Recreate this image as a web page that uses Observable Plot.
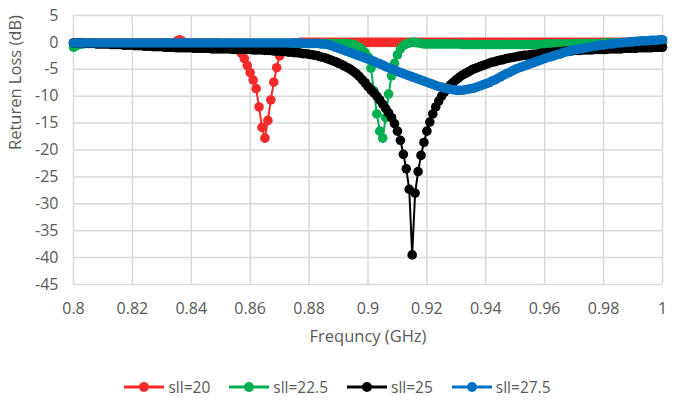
<!DOCTYPE html>
<html>
<head>
<meta charset="utf-8">
<script src="https://cdn.jsdelivr.net/npm/d3@7"></script>
<script src="https://cdn.jsdelivr.net/npm/@observablehq/plot@0.6"></script>
<style>
  body { margin: 0; background: #fff; font-family: "Open Sans", sans-serif; }
  #legend { display: flex; justify-content: center; align-items: center; gap: 19px; margin-top: 27px; height: 20px; color: #595959; font-size: 15.5px; }
  .item { display: flex; align-items: center; }
  .item svg { margin-right: 4px; }
</style>
</head>
<body>
<div id="chart"></div>
<div id="legend"></div>
<script>
const freq = [
0.800,0.801,0.802,0.803,0.804,0.805,0.806,0.807,0.808,0.809,
0.810,0.811,0.812,0.813,0.814,0.815,0.816,0.817,0.818,0.819,
0.820,0.821,0.822,0.823,0.824,0.825,0.826,0.827,0.828,0.829,
0.830,0.831,0.832,0.833,0.834,0.835,0.836,0.837,0.838,0.839,
0.840,0.841,0.842,0.843,0.844,0.845,0.846,0.847,0.848,0.849,
0.850,0.851,0.852,0.853,0.854,0.855,0.856,0.857,0.858,0.859,
0.860,0.861,0.862,0.863,0.864,0.865,0.866,0.867,0.868,0.869,
0.870,0.871,0.872,0.873,0.874,0.875,0.876,0.877,0.878,0.879,
0.880,0.881,0.882,0.883,0.884,0.885,0.886,0.887,0.888,0.889,
0.890,0.891,0.892,0.893,0.894,0.895,0.896,0.897,0.898,0.899,
0.900,0.901,0.902,0.903,0.904,0.905,0.906,0.907,0.908,0.909,
0.910,0.911,0.912,0.913,0.914,0.915,0.916,0.917,0.918,0.919,
0.920,0.921,0.922,0.923,0.924,0.925,0.926,0.927,0.928,0.929,
0.930,0.931,0.932,0.933,0.934,0.935,0.936,0.937,0.938,0.939,
0.940,0.941,0.942,0.943,0.944,0.945,0.946,0.947,0.948,0.949,
0.950,0.951,0.952,0.953,0.954,0.955,0.956,0.957,0.958,0.959,
0.960,0.961,0.962,0.963,0.964,0.965,0.966,0.967,0.968,0.969,
0.970,0.971,0.972,0.973,0.974,0.975,0.976,0.977,0.978,0.979,
0.980,0.981,0.982,0.983,0.984,0.985,0.986,0.987,0.988,0.989,
0.990,0.991,0.992,0.993,0.994,0.995,0.996,0.997,0.998,0.999,
1.000];

const sll20 = [
-0.1,-0.1,-0.1,-0.1,-0.1,-0.1,-0.1,-0.1,-0.1,-0.1,
-0.1,-0.1,-0.1,-0.1,-0.1,-0.1,-0.1,-0.1,-0.1,-0.1,
-0.1,-0.1,-0.1,-0.1,-0.1,-0.1,-0.1,-0.1,-0.1,-0.1,
-0.1,-0.1,-0.1,-0.1,-0.1,0.2,0.5,0.2,-0.1,-0.1,
-0.1,-0.1,-0.1,-0.1,-0.1,-0.1,-0.1,-0.1,-0.1,-0.1,
-0.2,-0.2,-0.3,-0.4,-0.6,-0.9,-1.3,-2.0,-3.0,-4.3,
-5.6,-7.0,-8.6,-12.0,-15.8,-17.8,-14.5,-10.7,-7.4,-4.7,
-2.5,-1.0,-0.5,-0.3,-0.2,-0.1,-0.1,0,0,0,
0,0,0,0,0,0,0,0,0,0,
0,0,0,0,0,0,0,0,0,0,
0,0,0,0,0,0,0,0,0,0,
0,0,0,0,0,0,0,0,0,0,
0,0,0,0,0,0,0,0,0,0,
0,0,0,0,0,0,0,0,0,0,
0,0,0,0,0,0,0,0,0,0,
0,0,0,0,0,0,0,0,0,0,
0,0,0,0,0,0,0,0,0,0,
0,0,0,0,0,0,0,0,0,0,
0,0,0,0,0,0,0,0,0,0,
0,0,0,0,0,0,0,0,0,0,
0];

const sll225 = [
-0.9,-0.6,-0.4,-0.3,-0.2,-0.2,-0.2,-0.2,-0.2,-0.2,
-0.2,-0.2,-0.2,-0.2,-0.2,-0.2,-0.2,-0.2,-0.2,-0.2,
-0.2,-0.2,-0.2,-0.2,-0.2,-0.2,-0.2,-0.2,-0.2,-0.2,
-0.2,-0.2,-0.2,-0.2,-0.2,-0.2,-0.2,-0.2,-0.2,-0.2,
-0.2,-0.2,-0.2,-0.2,-0.2,-0.2,-0.2,-0.2,-0.2,-0.2,
-0.2,-0.2,-0.2,-0.2,-0.2,-0.2,-0.2,-0.2,-0.2,-0.2,
-0.2,-0.2,-0.2,-0.2,-0.2,-0.2,-0.2,-0.2,-0.2,-0.2,
-0.2,-0.2,-0.2,-0.2,-0.2,-0.2,-0.2,-0.2,-0.2,-0.2,
-0.2,-0.2,-0.2,-0.2,-0.2,-0.2,-0.2,-0.2,-0.2,-0.2,
-0.2,-0.2,-0.2,-0.2,-0.3,-0.4,-0.6,-0.9,-1.3,-1.9,
-2.7,-4.8,-9.0,-13.3,-16.5,-17.8,-14.0,-9.6,-6.2,-3.9,
-2.3,-1.2,-0.6,-0.3,-0.1,0,0,-0.1,-0.2,-0.3,
-0.3,-0.3,-0.3,-0.3,-0.3,-0.3,-0.3,-0.3,-0.3,-0.3,
-0.3,-0.3,-0.4,-0.4,-0.4,-0.4,-0.4,-0.4,-0.4,-0.4,
-0.4,-0.4,-0.4,-0.4,-0.4,-0.4,-0.4,-0.4,-0.4,-0.4,
-0.4,-0.4,-0.4,-0.4,-0.4,-0.4,-0.4,-0.4,-0.4,-0.4,
-0.3,-0.3,-0.3,-0.3,-0.3,-0.3,-0.3,-0.3,-0.3,-0.3,
-0.2,-0.2,-0.2,-0.2,-0.2,-0.2,-0.2,-0.2,-0.2,-0.2,
-0.1,-0.1,-0.1,-0.1,-0.1,-0.1,-0.1,-0.1,-0.1,-0.1,
0,0,0,0,0,0,0,0,0,0,
0];

const sll25 = [
-0.1,-0.1,-0.1,-0.1,-0.2,-0.2,-0.2,-0.2,-0.3,-0.3,
-0.3,-0.3,-0.3,-0.4,-0.4,-0.4,-0.4,-0.5,-0.5,-0.5,
-0.5,-0.6,-0.6,-0.6,-0.7,-0.7,-0.7,-0.8,-0.8,-0.8,
-0.8,-0.9,-0.9,-0.9,-0.9,-1.0,-1.0,-1.0,-1.0,-1.0,
-1.0,-1.1,-1.1,-1.1,-1.1,-1.1,-1.1,-1.2,-1.2,-1.2,
-1.2,-1.2,-1.2,-1.2,-1.3,-1.3,-1.3,-1.3,-1.3,-1.3,
-1.3,-1.4,-1.4,-1.4,-1.4,-1.5,-1.5,-1.5,-1.6,-1.6,
-1.6,-1.7,-1.7,-1.8,-1.8,-1.9,-1.9,-2.0,-2.1,-2.1,
-2.2,-2.3,-2.4,-2.5,-2.7,-2.8,-3.0,-3.2,-3.4,-3.6,
-3.9,-4.1,-4.4,-4.7,-5.0,-5.4,-5.8,-6.3,-6.9,-7.5,
-8.2,-8.8,-9.4,-10.0,-10.7,-11.5,-12.3,-13.1,-14.0,-15.1,
-16.5,-18.2,-20.8,-23.5,-27.3,-39.5,-28.0,-24.0,-21.0,-18.6,
-16.5,-14.8,-13.3,-12.0,-10.9,-10.0,-9.2,-8.5,-7.9,-7.4,
-6.9,-6.5,-6.1,-5.8,-5.5,-5.2,-4.9,-4.7,-4.5,-4.3,
-4.1,-3.9,-3.7,-3.6,-3.4,-3.3,-3.2,-3.0,-2.9,-2.8,
-2.7,-2.6,-2.5,-2.4,-2.4,-2.3,-2.2,-2.2,-2.1,-2.0,
-2.0,-1.9,-1.9,-1.8,-1.8,-1.7,-1.7,-1.6,-1.6,-1.6,
-1.5,-1.5,-1.5,-1.4,-1.4,-1.4,-1.4,-1.3,-1.3,-1.3,
-1.3,-1.3,-1.2,-1.2,-1.2,-1.2,-1.2,-1.1,-1.1,-1.1,
-1.1,-1.1,-1.0,-1.0,-1.0,-1.0,-1.0,-0.9,-0.9,-0.9,
-0.9];

const sll275 = [
-0.1,-0.1,-0.1,-0.1,-0.1,-0.1,-0.1,-0.1,-0.1,-0.1,
-0.1,-0.1,-0.1,-0.1,-0.1,-0.1,-0.1,-0.1,-0.1,-0.1,
-0.1,-0.1,-0.1,-0.1,-0.1,-0.1,-0.1,-0.1,-0.1,-0.1,
-0.1,-0.1,-0.1,-0.1,-0.1,-0.1,-0.1,-0.1,-0.1,-0.1,
-0.1,-0.1,-0.1,-0.1,-0.1,-0.1,-0.1,-0.1,-0.1,-0.1,
-0.1,-0.1,-0.1,-0.1,-0.1,-0.1,-0.1,-0.1,-0.1,-0.1,
-0.1,-0.1,-0.1,-0.1,-0.1,-0.1,-0.1,-0.1,-0.1,-0.1,
-0.1,-0.1,-0.1,-0.1,-0.1,-0.1,-0.1,-0.1,-0.2,-0.2,
-0.2,-0.2,-0.2,-0.2,-0.3,-0.3,-0.4,-0.5,-0.7,-0.9,
-1.1,-1.3,-1.5,-1.7,-1.9,-2.1,-2.3,-2.5,-2.7,-2.9,
-3.1,-3.3,-3.5,-3.8,-4.0,-4.2,-4.5,-4.7,-4.9,-5.1,
-5.4,-5.6,-5.8,-6.0,-6.2,-6.4,-6.6,-6.8,-7.0,-7.2,
-7.4,-7.6,-7.8,-8.0,-8.2,-8.3,-8.5,-8.6,-8.7,-8.8,
-8.9,-8.9,-8.9,-8.8,-8.7,-8.6,-8.5,-8.3,-8.1,-7.9,
-7.7,-7.5,-7.2,-7.0,-6.7,-6.4,-6.1,-5.8,-5.6,-5.3,
-5.0,-4.8,-4.6,-4.4,-4.2,-4.0,-3.8,-3.6,-3.4,-3.2,
-3.0,-2.8,-2.7,-2.5,-2.3,-2.2,-2.0,-1.8,-1.7,-1.5,
-1.4,-1.3,-1.2,-1.1,-1.0,-0.9,-0.8,-0.7,-0.6,-0.5,
-0.5,-0.4,-0.3,-0.3,-0.2,-0.1,-0.1,0,0,0.1,
0.1,0.2,0.2,0.3,0.3,0.3,0.4,0.4,0.4,0.5,
0.5];

const seriesNames = ["sll=20", "sll=22.5", "sll=25", "sll=27.5"];
const seriesValues = [sll20, sll225, sll25, sll275];
const seriesColors = ["#f42a2a", "#00b050", "#000000", "#0070c0"];
const xTicks = [0.8, 0.82, 0.84, 0.86, 0.88, 0.9, 0.92, 0.94, 0.96, 0.98, 1];
const yTicks = [5, 0, -5, -10, -15, -20, -25, -30, -35, -40, -45];
const xTitle = "Frequncy (GHz)";
const yTitle = "Returen Loss (dB)";

const gridColor = "#d9d9d9";
const textColor = "#595959";

const seriesMarks = seriesValues.flatMap((vals, i) => {
  const data = freq.map((f, j) => ({f, v: vals[j]}));
  return [
    Plot.line(data, {x: "f", y: "v", stroke: seriesColors[i], strokeWidth: 2}),
    Plot.dot(data, {x: "f", y: "v", r: 4.8, fill: seriesColors[i], stroke: "none"})
  ];
});

const chart = Plot.plot({
  width: 675,
  height: 350,
  marginLeft: 73,
  marginRight: 13,
  marginTop: 15,
  marginBottom: 66,
  style: {fontFamily: "Open Sans", fontSize: "16px", color: textColor, background: "white", overflow: "visible"},
  x: {domain: [0.8, 1], ticks: xTicks, tickFormat: d => String(d), tickSize: 0, tickPadding: 18, label: null},
  y: {domain: [-45, 5], ticks: yTicks, tickFormat: d => String(d), tickSize: 0, tickPadding: 15, label: null},
  marks: [
    Plot.ruleX(xTicks, {stroke: gridColor, strokeWidth: 1.5}),
    Plot.ruleY(yTicks, {stroke: gridColor, strokeWidth: 1.5}),
    ...seriesMarks,
    Plot.text([xTitle], {text: d => d, frameAnchor: "bottom", dy: 57, fill: textColor, fontSize: 16.5}),
    Plot.text([yTitle], {text: d => d, frameAnchor: "left", dx: -58, rotate: -90, fill: textColor, fontSize: 16.5})
  ]
});
document.getElementById("chart").appendChild(chart);

const legend = document.getElementById("legend");
seriesNames.forEach((name, i) => {
  const item = document.createElement("div");
  item.className = "item";
  item.innerHTML = `<svg width="40" height="14"><line x1="0" y1="7" x2="40" y2="7" stroke="${seriesColors[i]}" stroke-width="3"/><circle cx="20" cy="7" r="5" fill="${seriesColors[i]}"/></svg><span>${name}</span>`;
  legend.appendChild(item);
});
</script>
</body>
</html>
